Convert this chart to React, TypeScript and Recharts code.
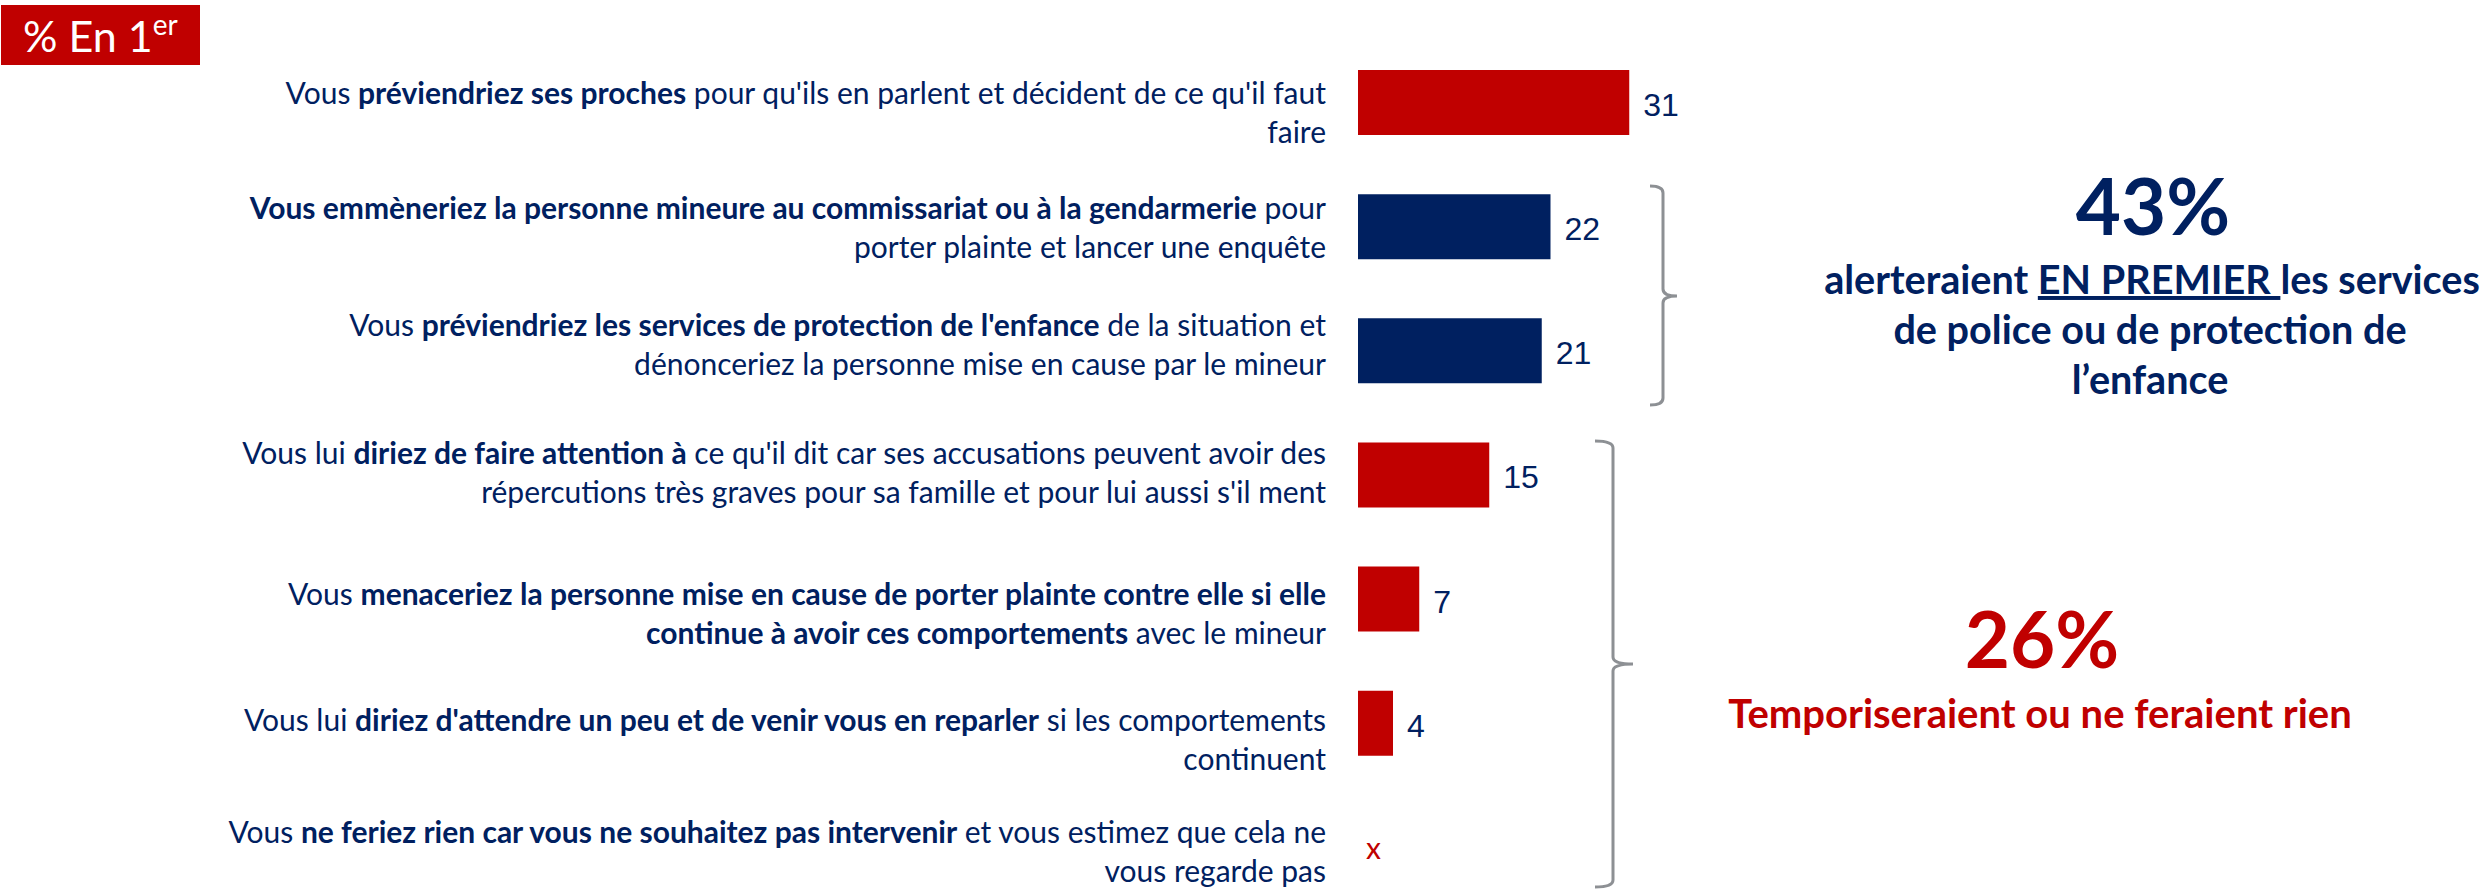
import React from "react";
import { Bar, BarChart, Cell, LabelList, XAxis, YAxis } from "recharts";

const NAVY = "#002060";
const RED = "#C00000";
const BRACE = "#8D9094";
const FONT = "Lato, 'Noto Sans', sans-serif";

// "**...**" = gras, "|" = retour à la ligne
const categories = [
  "Vous **préviendriez ses proches** pour qu'ils en parlent et décident de ce qu'il faut|faire",
  "**Vous emmèneriez la personne mineure au commissariat ou à la gendarmerie** pour|porter plainte et lancer une enquête",
  "Vous **préviendriez les services de protection de l'enfance** de la situation et|dénonceriez la personne mise en cause par le mineur",
  "Vous lui **diriez de faire attention à** ce qu'il dit car ses accusations peuvent avoir des|répercutions très graves pour sa famille et pour lui aussi s'il ment",
  "Vous **menaceriez la personne mise en cause de porter plainte contre elle si elle**|**continue à avoir ces comportements** avec le mineur",
  "Vous lui **diriez d'attendre un peu et de venir vous en reparler** si les comportements|continuent",
  "Vous **ne feriez rien car vous ne souhaitez pas intervenir** et vous estimez que cela ne|vous regarde pas",
];
const values: (number | null)[] = [31, 22, 21, 15, 7, 4, null];
const groups = ["proches", "police", "police", "tempo", "tempo", "tempo", "tempo"];

const policeShare = "43%";
const policeLines = ["de police ou de protection de", "l’enfance"];
const tempoShare = "26%";
const tempoText = "Temporiseraient ou ne feraient rien";

const GROUP_COLORS: Record<string, string> = { proches: RED, police: NAVY, tempo: RED };
// petits décalages verticaux des libellés (zones de texte du PPT)
const LABEL_SHIFT = [2, -7, -14, -11, 6, 8, -4];

const data = categories.map((name, i) => ({
  name,
  value: values[i] ?? 0,
  label: values[i] == null ? "" : String(values[i]),
  group: groups[i],
}));

function renderLine(line: string) {
  return line.split("**").map((seg, k) =>
    seg ? (
      <tspan key={k} fontWeight={k % 2 ? 700 : 400}>
        {seg}
      </tspan>
    ) : null
  );
}

function CategoryTick(props: any) {
  const { x, y, payload } = props;
  const idx = categories.indexOf(payload.value);
  const lines = String(payload.value).split("|");
  const base = y + (LABEL_SHIFT[idx] ?? 0);
  return (
    <g>
      {lines.map((line, li) => (
        <text
          key={li}
          x={x}
          y={base + li * 39}
          textAnchor="end"
          fill={NAVY}
          fontFamily={FONT}
          fontSize={30}
          style={{ whiteSpace: "pre" }}
        >
          {renderLine(line)}
        </text>
      ))}
      {/* pas de donnée : "x" rouge à l'origine de la barre */}
      {values[idx] == null && (
        <text x={x + 40} y={y + 12} fill={RED} fontFamily={FONT} fontSize={30}>
          x
        </text>
      )}
    </g>
  );
}

function ValueLabel(props: any) {
  const { x, y, width, height, value } = props;
  if (!value) return null;
  return (
    <text
      x={x + width + 14}
      y={y + height / 2 + 13.5}
      fill={NAVY}
      fontFamily="'Liberation Sans', Arial, sans-serif"
      fontSize={32}
    >
      {value}
    </text>
  );
}

function brace(x: number, top: number, mid: number, bottom: number, hook: number, nub: number) {
  return `M ${hook} ${top} Q ${x} ${top} ${x} ${top + 7} V ${mid - 7} Q ${x} ${mid} ${nub} ${mid} M ${nub} ${mid} Q ${x} ${mid} ${x} ${mid + 7} V ${bottom - 7} Q ${x} ${bottom} ${hook} ${bottom}`;
}

export default function App() {
  return (
    <div style={{ position: "absolute", left: 0, top: 0, width: 2483, height: 891, overflow: "hidden", background: "#fff" }}>
      <BarChart
        width={2483}
        height={910}
        data={data}
        layout="vertical"
        margin={{ top: 40, right: 250, bottom: 1, left: 0 }}
      >
        <XAxis type="number" domain={[0, 100]} hide />
        <YAxis
          type="category"
          dataKey="name"
          width={1358}
          axisLine={false}
          tickLine={false}
          tickSize={0}
          tickMargin={32}
          interval={0}
          tick={(p: any) => <CategoryTick {...p} />}
        />
        <Bar dataKey="value" barSize={65} isAnimationActive={false}>
          {data.map((d, i) => (
            <Cell key={i} fill={GROUP_COLORS[d.group]} />
          ))}
          <LabelList dataKey="label" content={(p: any) => <ValueLabel {...p} />} />
        </Bar>
      </BarChart>

      <svg width={2483} height={891} style={{ position: "absolute", left: 0, top: 0, pointerEvents: "none" }}>
        <rect x={1} y={5} width={199} height={60} fill={RED} />
        <text x={23} y={52} fill="#fff" fontFamily={FONT} fontSize={43}>
          % En 1<tspan fontSize={28} dy={-17}>er</tspan>
        </text>

        <path d={brace(1663, 186, 296, 405, 1650, 1677)} fill="none" stroke={BRACE} strokeWidth={3} />
        <path d={brace(1613, 441, 664, 887, 1595, 1633)} fill="none" stroke={BRACE} strokeWidth={3} />

        <g fontFamily={FONT} fontWeight={700} textAnchor="middle" fill={NAVY}>
          <text x={2153} y={235} fontSize={78}>{policeShare}</text>
          <text x={2152} y={294} fontSize={39.6} style={{ whiteSpace: "pre" }}>
            alerteraient <tspan textDecoration="underline">EN PREMIER </tspan>les services
          </text>
          {policeLines.map((l, i) => (
            <text key={i} x={2150} y={344 + i * 50} fontSize={39.6}>
              {l}
            </text>
          ))}
        </g>
        <g fontFamily={FONT} fontWeight={700} textAnchor="middle" fill={RED}>
          <text x={2042} y={668} fontSize={78}>{tempoShare}</text>
          <text x={2040} y={728} fontSize={40}>{tempoText}</text>
        </g>
      </svg>
    </div>
  );
}
